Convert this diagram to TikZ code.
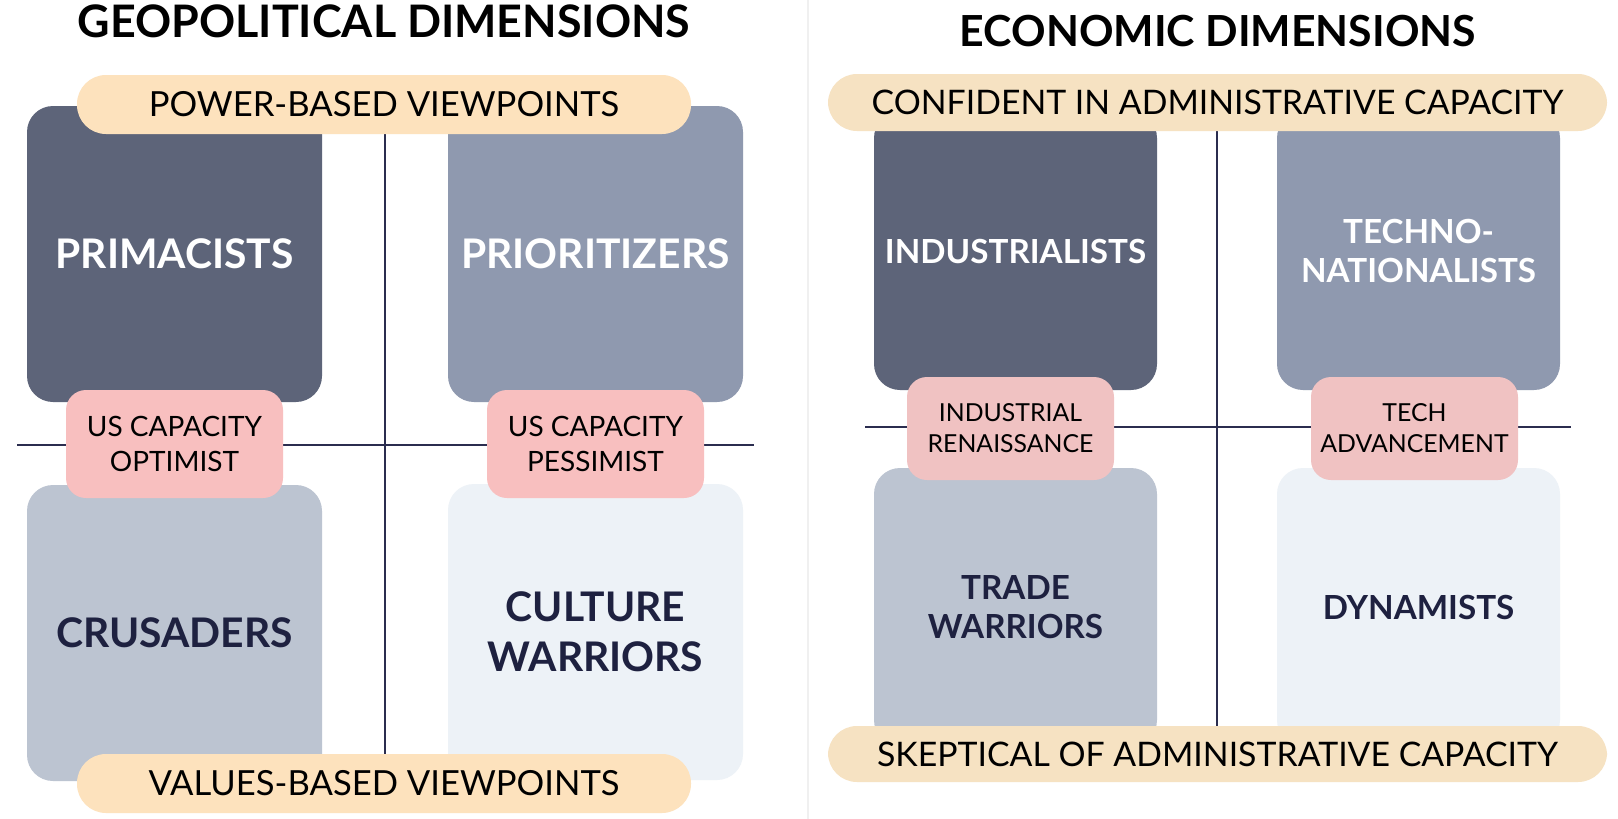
\documentclass[tikz,border=0pt]{standalone}
\usepackage{fontspec}
\setmainfont{Lato}
\usetikzlibrary{positioning}

\definecolor{slatedark}{HTML}{5D6479}
\definecolor{slatemid}{HTML}{8F99AF}
\definecolor{slatelight}{HTML}{BCC4D1}
\definecolor{slatepale}{HTML}{EDF2F7}
\definecolor{pinkA}{HTML}{F8BFBF}
\definecolor{pinkB}{HTML}{F0C2C2}
\definecolor{sandA}{HTML}{FDE2BD}
\definecolor{sandB}{HTML}{F6E2C2}
\definecolor{inkblue}{HTML}{1E2140}
\definecolor{axisblue}{HTML}{2B2D4F}

\begin{document}
\begin{tikzpicture}[
            x=0.5pt, y=-0.5pt,
            quad/.style={rectangle, rounded corners=13pt, align=center, font=\fontsize{20.4}{25}\selectfont\bfseries, inner sep=0pt},
            geoquad/.style={quad, minimum width=147.5pt, minimum height=148pt},
            ecoquad/.style={quad, minimum width=141.5pt, minimum height=139pt, font=\fontsize{16.6}{19.5}\selectfont\bfseries},
            axislabel/.style={rectangle, rounded corners=14.5pt, inner sep=0pt, font=\fontsize{17.3}{20}\selectfont},
            bridge/.style={rectangle, rounded corners=10pt, align=center, inner sep=0pt, fill=pinkA, text=black, font=\fontsize{14}{17.5}\selectfont},
            axis/.style={draw=axisblue, line width=0.8pt},
            heading/.style={font=\fontsize{22.4}{26}\selectfont\bfseries}
        ]
            \useasboundingbox (0,0) rectangle (1618,819);
            \fill[white] (0,0) rectangle (1618,819);
            \draw[black!6, line width=0.6pt] (808,0) -- (808,819);

            % Geopolitical dimensions
            \node[heading] (geotitle) at (384,21) {GEOPOLITICAL DIMENSIONS};
            \node[geoquad, fill=slatedark, text=white] (primacists) at (174.5,254) {PRIMACISTS};
            \node[geoquad, fill=slatemid, text=white] (prioritizers) at (595.5,254) {PRIORITIZERS};
            \node[geoquad, fill=slatelight, text=inkblue] (crusaders) at (174.5,633) {CRUSADERS};
            \node[geoquad, fill=slatepale, text=inkblue] (culture) at (595.5,632) {CULTURE\\WARRIORS};

            \coordinate (geotop) at (385,134);
            \coordinate (geobottom) at (385,754);
            \coordinate (geoleft) at (17,445);
            \coordinate (georight) at (754,445);
            \draw[axis] (geotop) -- (geobottom);
            \draw[axis] (geoleft) -- (georight);

            \node[axislabel, fill=sandA, minimum width=307pt, minimum height=29.5pt] (power) at (384,104.5) {POWER-BASED VIEWPOINTS};
            \node[axislabel, fill=sandA, minimum width=307pt, minimum height=29.5pt] (values) at (384,783.5) {VALUES-BASED VIEWPOINTS};
            \node[bridge, minimum width=108.5pt, minimum height=54pt] (optimist) at (174.5,444) {US CAPACITY\\OPTIMIST};
            \node[bridge, minimum width=108.5pt, minimum height=54pt] (pessimist) at (595.5,444) {US CAPACITY\\PESSIMIST};

            % Economic dimensions
            \node[heading, font=\fontsize{21.4}{26}\selectfont\bfseries] (ecotitle) at (1218,31) {ECONOMIC DIMENSIONS};
            \node[ecoquad, fill=slatedark, text=white] (industrialists) at (1015.5,251) {INDUSTRIALISTS};
            \node[ecoquad, fill=slatemid, text=white] (techno) at (1418.5,251) {TECHNO-\\NATIONALISTS};
            \node[ecoquad, fill=slatelight, text=inkblue] (trade) at (1015.5,607) {TRADE\\WARRIORS};
            \node[ecoquad, fill=slatepale, text=inkblue] (dynamists) at (1418.5,607) {DYNAMISTS};

            \coordinate (ecotop) at (1217,131);
            \coordinate (ecobottom) at (1217,727);
            \coordinate (ecoleft) at (865,427);
            \coordinate (ecoright) at (1571,427);
            \draw[axis] (ecotop) -- (ecobottom);
            \draw[axis] (ecoleft) -- (ecoright);

            \node[axislabel, fill=sandB, minimum width=389.5pt, minimum height=28.5pt, font=\fontsize{16.9}{20}\selectfont] (confident) at (1217.5,102.5) {CONFIDENT IN ADMINISTRATIVE CAPACITY};
            \node[axislabel, fill=sandB, minimum width=389.5pt, minimum height=28pt, font=\fontsize{16.9}{20}\selectfont] (skeptical) at (1217.5,754) {SKEPTICAL OF ADMINISTRATIVE CAPACITY};
            \node[bridge, fill=pinkB, minimum width=103.5pt, minimum height=51.5pt, font=\fontsize{12.4}{15.5}\selectfont] (renaissance) at (1010.5,428.5) {INDUSTRIAL\\RENAISSANCE};
            \node[bridge, fill=pinkB, minimum width=103.5pt, minimum height=51.5pt, font=\fontsize{12.4}{15.5}\selectfont] (advancement) at (1414.5,428.5) {TECH\\ADVANCEMENT};
        \end{tikzpicture}
\end{document}
